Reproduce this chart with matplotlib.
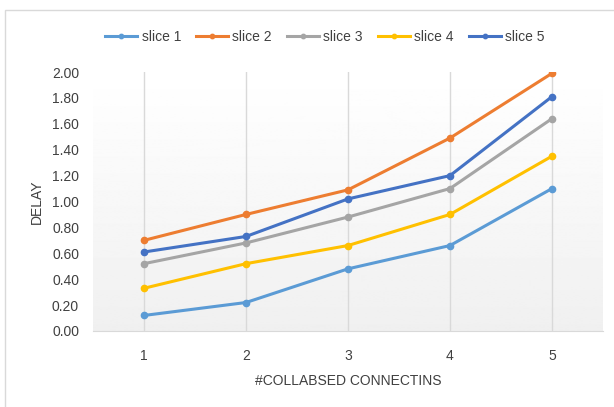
import numpy as np
import matplotlib.pyplot as plt
from matplotlib.patches import Rectangle

plt.rcParams['font.family'] = ['Liberation Sans Narrow', 'Liberation Sans', 'DejaVu Sans']

# data
connections = [1, 2, 3, 4, 5]
slice1 = [0.12, 0.22, 0.48, 0.66, 1.10]
slice2 = [0.70, 0.90, 1.09, 1.49, 1.99]
slice3 = [0.52, 0.68, 0.88, 1.10, 1.64]
slice4 = [0.33, 0.52, 0.66, 0.90, 1.35]
slice5 = [0.61, 0.73, 1.02, 1.20, 1.81]
series = [("slice 1", slice1, "#5B9BD5"),
          ("slice 2", slice2, "#ED7D31"),
          ("slice 3", slice3, "#A5A5A5"),
          ("slice 4", slice4, "#FFC000"),
          ("slice 5", slice5, "#4472C4")]

fig = plt.figure(figsize=(6.14, 4.07), dpi=100)
fig.patches.append(Rectangle((5 / 614, -0.05), 1.1, 1 - 10 / 407 + 0.05,
                             transform=fig.transFigure, fill=False,
                             edgecolor="#D9D9D9", linewidth=1))

ax = fig.add_axes([93 / 614, 1 - 331 / 407, 510 / 614, 259 / 407])

# gradient background of the plot area
grad = np.linspace(1.0, 0.94, 256).reshape(-1, 1)
ax.imshow(grad, cmap="gray", vmin=0, vmax=1, aspect="auto",
          extent=[0.5, 5.5, 0, 2.0], origin="upper", zorder=0)

for name, vals, col in series:
    ax.plot(connections, vals, color=col, linewidth=2.2, marker="o",
            markersize=4.5, label=name, zorder=3)

ax.set_xlim(0.5, 5.5)
ax.set_ylim(0, 2.0)
ax.set_xticks(connections)
ax.set_yticks(np.arange(0, 2.01, 0.2))
ax.set_yticklabels([f"{v:.2f}" for v in np.arange(0, 2.01, 0.2)])
ax.grid(axis="x", color="#D9D9D9", linewidth=1, zorder=1)
for s in ["top", "right", "left"]:
    ax.spines[s].set_visible(False)
ax.spines["bottom"].set_color("#D9D9D9")
ax.tick_params(length=0, labelsize=10, colors="#404040")
ax.tick_params(axis="x", pad=13)
ax.tick_params(axis="y", pad=10)

ax.set_xlabel("#COLLABSED CONNECTINS", fontsize=10, color="#404040", labelpad=8)
ax.set_ylabel("DELAY", fontsize=10, color="#404040", labelpad=6)

ax.legend(loc="center", bbox_to_anchor=(0.455, 1.135), ncol=5,
          frameon=False, fontsize=10, handlelength=2.3, columnspacing=1.1,
          handletextpad=0.3, labelcolor="#404040", markerscale=0.7)

plt.savefig("out.png", dpi=100)
